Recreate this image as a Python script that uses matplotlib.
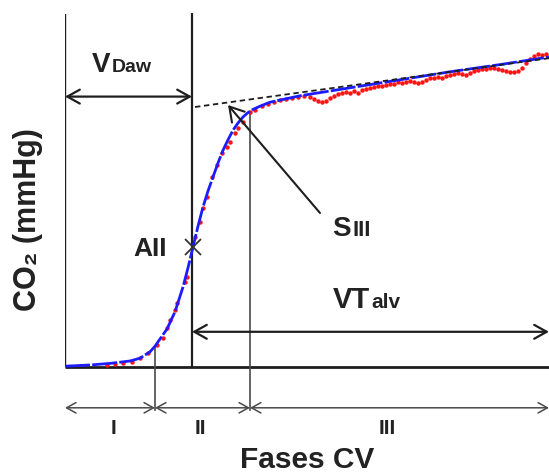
import matplotlib.pyplot as plt

plt.rcParams['font.family'] = ['Liberation Sans', 'DejaVu Sans']
plt.rcParams['font.weight'] = 'bold'

# Expired volume (mL) and CO2 (mmHg) of the fitted capnogram
fit_vol = [0, 25, 45, 65, 75, 85, 90, 95, 102, 110, 118, 123, 128, 133, 138,
           143, 148, 153, 158, 163, 168, 173, 178, 183, 188, 195, 205, 220,
           235, 260, 285, 335, 385, 435, 484]
fit_co2 = [0.1, 0.25, 0.45, 0.75, 1.1, 1.9, 2.6, 3.5, 4.75, 6.9, 10.0, 12.4,
           15.0, 17.6, 20.0, 22.0, 23.75, 25.5, 27.1, 28.4, 29.6, 30.5, 31.25,
           31.8, 32.2, 32.6, 33.1, 33.5, 33.9, 34.4, 34.9, 35.9, 36.9, 37.8,
           38.75]

# Measured samples
meas_vol = [42, 50, 58, 67, 75, 83, 92, 98, 102, 105, 110, 112, 120, 122, 130,
            135, 138, 142, 147, 152, 157, 162, 165, 170, 173, 178, 185,
            190, 197, 203, 209, 215, 221, 227, 233, 239, 245, 249, 253, 257,
            261, 265, 269, 273, 277, 281, 285, 289, 293, 297, 301, 305, 309,
            313, 317, 321, 325, 329, 333, 337, 341, 345, 349, 353, 357, 361,
            365, 369, 373, 377, 381, 385, 389, 393, 397, 401, 405, 409, 413,
            417, 421, 425, 429, 433, 437, 441, 445, 449, 453, 457, 461, 465,
            469, 473, 477, 481]
meas_co2 = [0.25, 0.4, 0.5, 0.6, 1.1, 1.75, 2.75, 3.6, 4.9, 5.9, 7.1, 8.0, 10.6,
            11.25, 16.25, 18.1, 19.9, 21.25, 23.75, 25.25, 26.75, 27.5, 28.1,
            29.25, 29.9, 30.6, 31.9,
            32.1, 32.6, 32.9, 33.1, 33.4, 33.5, 33.6, 33.75, 33.9, 33.75, 33.5,
            33.25, 33.1, 33.25, 33.6, 33.9, 34.1, 34.25, 34.4, 34.25, 34.5,
            34.25, 34.6, 34.75, 34.9, 35.0, 35.1, 35.1, 35.25, 35.4, 35.4, 35.6,
            35.5, 35.6, 35.75, 35.6, 35.5, 35.6, 35.9, 36.1, 36.1, 36.25, 36.1,
            36.4, 36.5, 36.6, 36.75, 36.6, 36.5, 36.75, 37.0, 37.1, 37.25,
            37.25, 37.4, 37.4, 37.25, 37.1, 37.0, 36.9, 36.9, 37.0, 37.4, 38.0,
            38.5, 38.9, 39.1, 39.0, 39.1]

# Phase boundaries (mL)
v_end = 484
v_phase2 = 90
v_daw = 127
v_phase3 = 185
phase_labels = ['I', 'II', 'III']
phase_label_x = [48, 135, 322]

# Slope of phase III
slope_vol = [130, 484]
slope_co2 = [32.5, 38.6]

# Inflection point (angle II)
a2_vol, a2_co2 = 128, 15.0

fig = plt.figure(figsize=(5.49, 4.73), dpi=100)
ax = fig.add_axes([65 / 549, 0, 484 / 549, 1])
ax.set_xlim(0, v_end)
ax.set_ylim(-13.25, 45.875)
ax.axis('off')

dark = '#1e1e1e'
grey = '#4a4a4a'

# axis frame
ax.plot([0, 0], [0, 44.1], color=dark, lw=1.7, solid_capstyle='butt')
ax.plot([0, v_end], [0, 0], color=dark, lw=2.0, solid_capstyle='butt')
ax.plot([v_daw, v_daw], [0, 44.3], color=dark, lw=1.6, solid_capstyle='butt')

# phase boundaries
ax.plot([v_phase2, v_phase2], [-5.4, 2.6], color=grey, lw=1.2)
ax.plot([v_phase3, v_phase3], [-5.4, 31.9], color=grey, lw=1.2)

# curve
ax.plot(meas_vol, meas_co2, 'o', color='#ff1414', ms=3.2, mew=0, zorder=2)
ax.plot(fit_vol, fit_co2, color='#1c1cff', lw=2.0, ls=(0, (9, 0.8)), zorder=3)
ax.plot(slope_vol, slope_co2, color=dark, lw=1.3, ls=(0, (3, 2)), zorder=4)
ax.plot(a2_vol, a2_co2, 'x', color='#333333', ms=11, mew=1.3, zorder=5)

big = dict(arrowstyle='<->,head_length=0.45,head_width=0.25',
           color=dark, lw=1.6, mutation_scale=20, shrinkA=0, shrinkB=0)
ax.annotate('', xy=(v_daw, 33.8), xytext=(0, 33.8), arrowprops=big)
ax.annotate('', xy=(v_end, 4.4), xytext=(v_daw, 4.4), arrowprops=big,
            annotation_clip=False)

small = dict(arrowstyle='<->,head_length=0.45,head_width=0.25',
             color=grey, lw=1.1, mutation_scale=15, shrinkA=0, shrinkB=0)
bounds = [0, v_phase2, v_phase3, v_end]
for a, b in zip(bounds[:-1], bounds[1:]):
    ax.annotate('', xy=(b, -5.1), xytext=(a, -5.1), arrowprops=small,
                annotation_clip=False)
for lab, x in zip(phase_labels, phase_label_x):
    ax.text(x, -7.7, lab, ha='center', va='center', fontsize=15,
            fontweight='bold', color='#222222')

# S III pointer
ax.annotate('', xy=(163, 32.75), xytext=(255, 19.25),
            arrowprops=dict(arrowstyle='->,head_length=0.5,head_width=0.3',
                            color=dark, lw=1.5, mutation_scale=20,
                            shrinkA=0, shrinkB=0))

tc = '#222222'
ax.text(27, 36.9, 'V', fontsize=20, fontweight='bold', color=tc, va='baseline')
ax.text(47, 36.9, 'Daw', fontsize=14, fontweight='bold', color=tc, va='baseline')
ax.text(267, 16.4, 'S', fontsize=20, fontweight='bold', color=tc, va='baseline')
ax.text(287, 16.4, 'III', fontsize=16, fontweight='bold', color=tc, va='baseline')
ax.text(68, 13.9, 'AII', fontsize=19, fontweight='bold', color=tc, va='baseline')
ax.text(268, 7.4, 'VT', fontsize=21, fontweight='bold', color=tc, va='baseline')
ax.text(306, 7.4, 'alv', fontsize=15, fontweight='bold', color=tc, va='baseline')

ax.text(242, -12.6, 'Fases CV', ha='center', va='baseline', fontsize=21.5,
        fontweight='bold', color=tc)
ax.text(-37, 18.4, 'CO₂ (mmHg)', ha='center', va='center', rotation=90,
        fontsize=22, fontweight='bold', color=tc)

fig.savefig('out.png', dpi=100, facecolor='white')
